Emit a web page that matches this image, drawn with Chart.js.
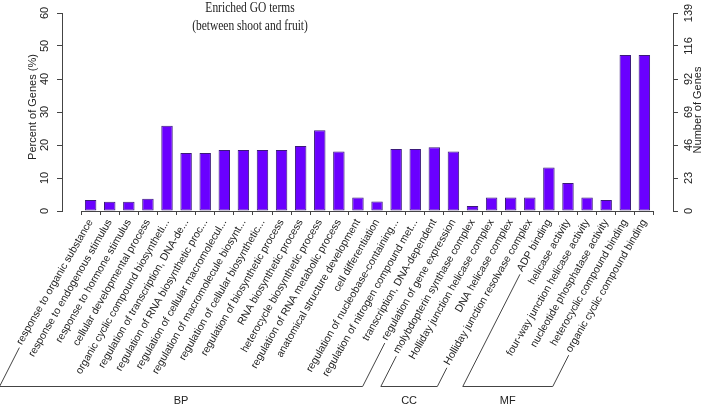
<!DOCTYPE html>
<html><head><meta charset="utf-8">
<script src="https://cdn.jsdelivr.net/npm/chart.js@4.4.1/dist/chart.umd.min.js"></script>
<style>html,body{margin:0;padding:0;background:#fff;}#wrap{width:706px;height:407px;}</style>
</head><body><div id="wrap"><canvas id="c" width="706" height="407"></canvas></div>
<script>
const categories = [
  'response to organic substance','response to endogenous stimulus','response to hormone stimulus',
  'cellular developmental process','organic cyclic compound biosyntheti...','regulation of transcription, DNA-de...',
  'regulation of RNA biosynthetic proc...','regulation of cellular macromolecul...','regulation of macromolecule biosynt...',
  'regulation of cellular biosynthetic...','regulation of biosynthetic process','RNA biosynthetic process',
  'heterocycle biosynthetic process','regulation of RNA metabolic process','anatomical structure development',
  'cell differentiation','regulation of nucleobase-containing...','regulation of nitrogen compound met...',
  'transcription, DNA-dependent','regulation of gene expression',
  'molybdopterin synthase complex','Holliday junction helicase complex','DNA helicase complex',
  'Holliday junction resolvase complex',
  'ADP binding','helicase activity','four-way junction helicase activity','nucleotide phosphatase activity',
  'heterocyclic compound binding','organic cyclic compound binding'
];
const percentValues = [3.3,2.8,2.8,3.7,25.8,17.6,17.6,18.5,18.5,18.5,18.5,19.7,24.5,18.0,4.1,2.9,
  18.8,18.8,19.3,18.0, 1.5,4.1,4.1,4.1, 13.2,8.5,4.1,3.3,47.3,47.3];
const groupNames = ['BP','CC','MF'];
const groupSizes = [20,4,6];
const leftTickValues = [0,10,20,30,40,50,60];
const leftTickLabels = ['0','10','20','30','40','50','60'];
const rightTickLabels = ['0','23','46','69','92','116','139'];
const titleLines = ['Enriched GO terms','(between shoot and fruit)'];
const leftAxisTitle = 'Percent of Genes (%)';
const rightAxisTitle = 'Number of Genes';

const AXIS = '#444';
const TXT = '#222';
const SANS = "'Liberation Sans', Arial, Helvetica, sans-serif";
const SERIF = "'Liberation Serif', 'Times New Roman', serif";

const paddedLabels = [''].concat(categories, ['']);
const paddedValues = [null].concat(percentValues, [null]);

const annot = {
  id: 'annot',
  afterDraw(chart) {
    const ctx = chart.ctx, xs = chart.scales.x, ys = chart.scales.y, ca = chart.chartArea;
    const W = chart.width, H = chart.height;
    ctx.save();
    // titles
    ctx.fillStyle = TXT;
    ctx.textAlign = 'center';
    ctx.textBaseline = 'alphabetic';
    ctx.font = '14px ' + SERIF;
    [[titleLines[0], 12], [titleLines[1], 30]].forEach(([t, y]) => {
      ctx.save(); ctx.translate(250, y); ctx.scale(0.82, 1); ctx.fillText(t, 0, 0); ctx.restore();
    });
    // axis titles and y tick labels (rotated, reading upward)
    ctx.font = '11px ' + SANS;
    ctx.textBaseline = 'middle';
    const vtext = (t, x, y) => { ctx.save(); ctx.translate(x, y); ctx.rotate(-Math.PI/2); ctx.fillText(t, 0, 0); ctx.restore(); };
    vtext(leftAxisTitle, 33, 107);
    vtext(rightAxisTitle, W - 8, 110);
    leftTickValues.forEach((v, i) => {
      const py = ys.getPixelForValue(v);
      vtext(leftTickLabels[i], ca.left - 17, py);
      vtext(rightTickLabels[i], ca.right + 16, py);
    });
    // x axis line
    const step = xs.getPixelForValue(2) - xs.getPixelForValue(1);
    const x0 = xs.getPixelForValue(1) - step/2;
    const x1 = xs.getPixelForValue(categories.length) + step/2;
    ctx.strokeStyle = AXIS; ctx.lineWidth = 1;
    ctx.beginPath(); ctx.moveTo(x0, Math.round(ca.bottom) + 0.5); ctx.lineTo(x1, Math.round(ca.bottom) + 0.5); ctx.stroke();
    // brackets
    const items = xs.getLabelItems();
    const bracketY = H - 20.5;
    const ang = 63 * Math.PI / 180;
    const startOf = (item) => {
      ctx.font = item.font.string;
      const w = ctx.measureText(item.label).width;
      const [tx, ty] = item.options.translation;
      const r = item.options.rotation, to = item.textOffset;
      const px = -w - 3, py = to + 2;
      return [tx + px*Math.cos(r) - py*Math.sin(r), ty + px*Math.sin(r) + py*Math.cos(r)];
    };
    let idx = 1;
    ctx.strokeStyle = AXIS;
    groupSizes.forEach((n, g) => {
      const a = startOf(items[idx]);
      const b = startOf(items[idx + n - 1]);
      const ax = a[0] - (bracketY - a[1]) / Math.tan(ang);
      const bx = b[0] - (bracketY - b[1]) / Math.tan(ang);
      ctx.beginPath();
      ctx.moveTo(a[0], a[1]); ctx.lineTo(ax, bracketY); ctx.lineTo(bx, bracketY); ctx.lineTo(b[0], b[1]);
      ctx.stroke();
      ctx.fillStyle = TXT;
      ctx.font = '11px ' + SANS;
      ctx.textAlign = 'center'; ctx.textBaseline = 'middle';
      ctx.fillText(groupNames[g], (ax + bx) / 2, H - 6);
      idx += n;
    });
    ctx.restore();
  }
};

new Chart(document.getElementById('c'), {
  type: 'bar',
  data: {
    labels: paddedLabels,
    datasets: [{
      data: paddedValues,
      backgroundColor: '#6a00ff',
      borderColor: '#3b1a7a',
      borderWidth: 1,
      borderSkipped: false,
      barPercentage: 0.6,
      categoryPercentage: 1.0
    }]
  },
  options: {
    responsive: false,
    animation: false,
    devicePixelRatio: 1,
    layout: { padding: { top: 13, left: 0, right: 0, bottom: 0 } },
    plugins: { legend: { display: false }, tooltip: { enabled: false }, title: { display: false } },
    scales: {
      x: {
        type: 'category',
        offset: true,
        border: { display: false },
        grid: {
          offset: true, drawOnChartArea: false, drawTicks: true, tickLength: 4,
          color: c => (c.type === 'tick' && c.index >= 1 && c.index <= categories.length + 1) ? AXIS : 'rgba(0,0,0,0)'
        },
        ticks: { autoSkip: false, minRotation: 60, maxRotation: 60, padding: 2, color: TXT,
          font: { family: SANS, size: 10.5 } },
        afterFit: s => { s.height = 196; }
      },
      y: {
        position: 'left', min: 0, max: 60,
        afterBuildTicks: s => { s.ticks = leftTickValues.map(v => ({ value: v })); },
        border: { display: true, color: AXIS },
        grid: { drawOnChartArea: false, drawTicks: true, tickLength: 5, color: AXIS },
        ticks: { display: false },
        afterFit: s => { s.width = 62; }
      },
      y1: {
        position: 'right', min: 0, max: 60,
        afterBuildTicks: s => { s.ticks = leftTickValues.map(v => ({ value: v })); },
        border: { display: true, color: AXIS },
        grid: { drawOnChartArea: false, drawTicks: true, tickLength: 5, color: AXIS },
        ticks: { display: false },
        afterFit: s => { s.width = 33; }
      }
    }
  },
  plugins: [annot]
});
</script></body></html>
